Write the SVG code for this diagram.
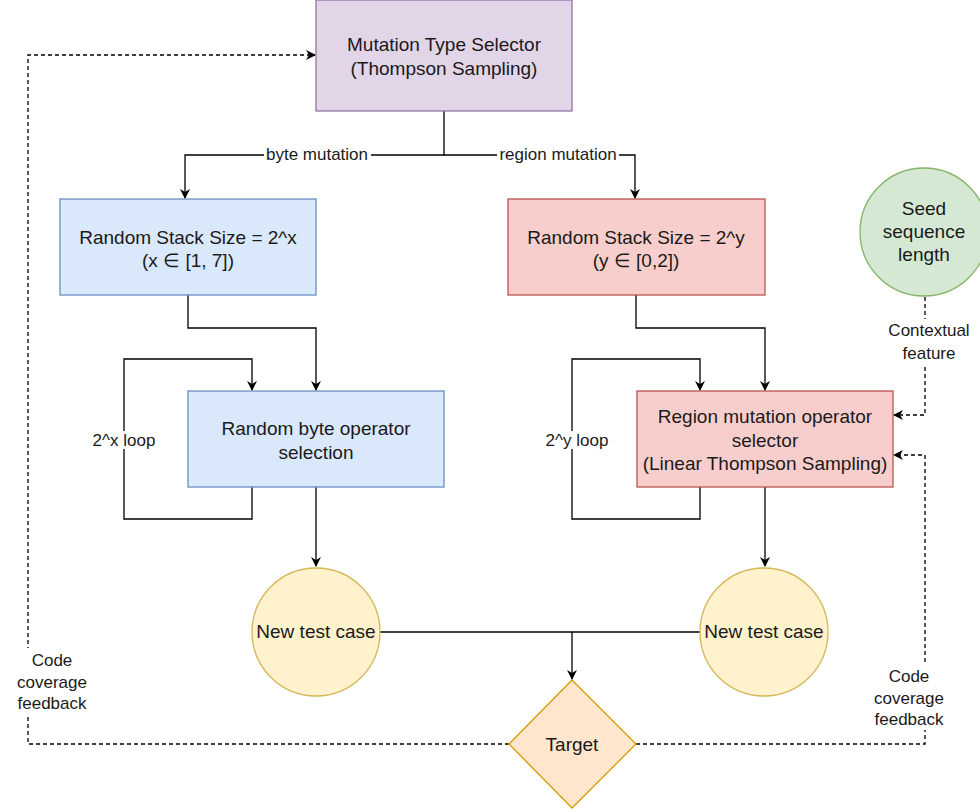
<svg xmlns="http://www.w3.org/2000/svg" width="980" height="812" viewBox="0 0 980 812">
<defs>
<marker id="arr" viewBox="0 0 10 10" refX="9" refY="5" markerWidth="10" markerHeight="10" markerUnits="userSpaceOnUse" orient="auto">
<path d="M0,0 L10,5 L0,10 L3,5 Z" fill="#000"/>
</marker>
</defs>
<style>
text{font-family:"Liberation Sans",Arial,sans-serif;fill:#1a1a1a;text-anchor:middle}
.n{font-size:19px}
.l{font-size:17px}
.e{fill:none;stroke:#000;stroke-width:1.3}
.d{fill:none;stroke:#000;stroke-width:1.3;stroke-dasharray:4 3}
.bg{fill:#fff}
</style>
<rect width="980" height="812" fill="#fff"/>
<g id="connectors">
<path class="e" d="M444,111 V155 H185 V198" marker-end="url(#arr)"/>
<path class="e" d="M444,155 H635 V198" marker-end="url(#arr)"/>
<rect class="bg" x="264" y="145" width="107" height="18"/>
<text class="l" x="317" y="160">byte mutation</text>
<rect class="bg" x="497" y="145" width="122" height="18"/>
<text class="l" x="558" y="160">region mutation</text>
<path class="e" d="M188,295 V328 H316 V390" marker-end="url(#arr)"/>
<path class="e" d="M252,487 V519 H124 V359 H252 V390" marker-end="url(#arr)"/>
<rect class="bg" x="90" y="431" width="68" height="18"/>
<text class="l" x="124" y="446">2^x loop</text>
<path class="e" d="M316,487 V566" marker-end="url(#arr)"/>
<path class="e" d="M636,295 V328 H765 V390" marker-end="url(#arr)"/>
<path class="e" d="M700,487 V519 H572 V359 H700 V390" marker-end="url(#arr)"/>
<rect class="bg" x="542" y="431" width="70" height="18"/>
<text class="l" x="577" y="446">2^y loop</text>
<path class="e" d="M765,487 V566" marker-end="url(#arr)"/>
<path class="e" d="M380,632 H700"/>
<path class="e" d="M572,632 V679" marker-end="url(#arr)"/>
<path class="d" d="M509,744 H28 V55 H315" marker-end="url(#arr)"/>
<rect class="bg" x="12" y="648" width="80" height="66"/>
<text class="l" x="52" y="666">Code</text>
<text class="l" x="52" y="688">coverage</text>
<text class="l" x="52" y="709">feedback</text>
<path class="d" d="M636,744 H925 V455 H894" marker-end="url(#arr)"/>
<rect class="bg" x="869" y="664" width="80" height="66"/>
<text class="l" x="909" y="682">Code</text>
<text class="l" x="909" y="704">coverage</text>
<text class="l" x="909" y="725">feedback</text>
<path class="d" d="M925,297 V415 H894" marker-end="url(#arr)"/>
<rect class="bg" x="886" y="319" width="88" height="45"/>
<text class="l" x="929" y="336">Contextual</text>
<text class="l" x="929" y="359">feature</text>
</g>
<g id="mutation-type-selector">
<rect x="316" y="0" width="256" height="111" fill="#e1d5e7" stroke="#9673a6" stroke-width="1.3"/>
<text class="n" x="444" y="51">Mutation Type Selector</text>
<text class="n" x="444" y="75">(Thompson Sampling)</text>
</g>
<g id="stack-size-x">
<rect x="60" y="199" width="256" height="96" fill="#dae8fc" stroke="#6c8ebf" stroke-width="1.3"/>
<text class="n" x="188" y="244">Random Stack Size = 2^x</text>
<text class="n" x="188" y="267">(x ∈ [1, 7])</text>
</g>
<g id="stack-size-y">
<rect x="508" y="199" width="257" height="96" fill="#f8cecc" stroke="#b85450" stroke-width="1.3"/>
<text class="n" x="636" y="244">Random Stack Size = 2^y</text>
<text class="n" x="636" y="267">(y ∈ [0,2])</text>
</g>
<g id="byte-operator">
<rect x="188" y="391" width="256" height="96" fill="#dae8fc" stroke="#6c8ebf" stroke-width="1.3"/>
<text class="n" x="316" y="435">Random byte operator</text>
<text class="n" x="316" y="459">selection</text>
</g>
<g id="region-operator">
<rect x="637" y="391" width="256" height="96" fill="#f8cecc" stroke="#b85450" stroke-width="1.3"/>
<text class="n" x="765" y="423">Region mutation operator</text>
<text class="n" x="765" y="447">selector</text>
<text class="n" x="765" y="470">(Linear Thompson Sampling)</text>
</g>
<g id="seed-length">
<circle cx="924" cy="232" r="64" fill="#d5e8d4" stroke="#82b366" stroke-width="1.3"/>
<text class="n" x="924" y="215">Seed</text>
<text class="n" x="924" y="238">sequence</text>
<text class="n" x="924" y="261">length</text>
</g>
<g id="test-case-1">
<circle cx="316" cy="632" r="64" fill="#fff2cc" stroke="#d6b656" stroke-width="1.3"/>
<text class="n" x="316" y="638">New test case</text>
</g>
<g id="test-case-2">
<circle cx="764" cy="632" r="64" fill="#fff2cc" stroke="#d6b656" stroke-width="1.3"/>
<text class="n" x="764" y="638">New test case</text>
</g>
<g id="target">
<polygon points="572,680 636,744 572,808 509,744" fill="#ffe6cc" stroke="#d79b00" stroke-width="1.3"/>
<text class="n" x="572" y="751">Target</text>
</g>
</svg>
